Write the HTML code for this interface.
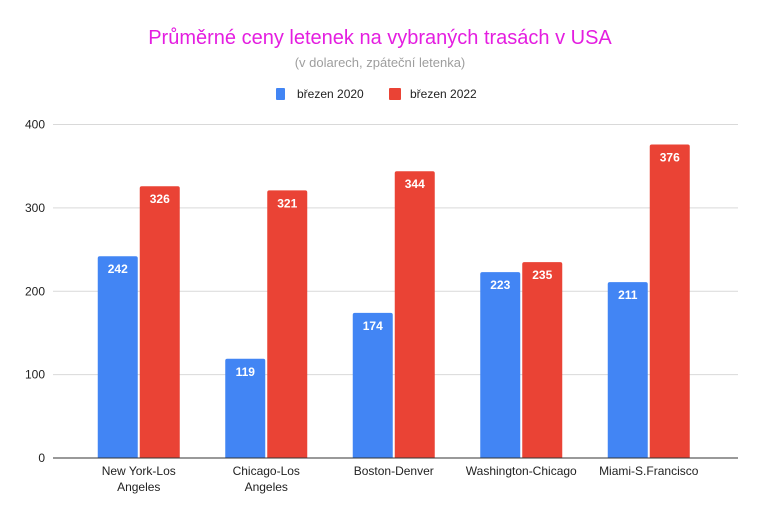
<!DOCTYPE html>
<html><head><meta charset="utf-8">
<style>
body{margin:0;background:#fff;}
svg text{font-family:"Liberation Sans",Arial,sans-serif;}
</style></head>
<body>
<svg width="759" height="514" xmlns="http://www.w3.org/2000/svg">
<rect width="759" height="514" fill="#fff"/>
<text x="380" y="44" text-anchor="middle" font-size="20" fill="#e41ee0">Průměrné ceny letenek na vybraných trasách v USA</text>
<text x="380" y="67" text-anchor="middle" font-size="13" fill="#9e9e9e">(v dolarech, zpáteční letenka)</text>
<g>
<g><rect x="276" y="88" width="9" height="12" rx="1" fill="#4285f4"/><text x="297" y="98" font-size="12" fill="#222">březen 2020</text></g>
<g><rect x="389" y="88" width="12" height="12" rx="1" fill="#ea4335"/><text x="410" y="98" font-size="12" fill="#222">březen 2022</text></g>
</g>
<g id="grid"></g>
<g id="bars"></g>
<g id="xlabels"></g>
</svg>
<script>
const categories=[["New York-Los","Angeles"],["Chicago-Los","Angeles"],["Boston-Denver"],["Washington-Chicago"],["Miami-S.Francisco"]];
const series2020=[242,119,174,223,211];
const series2022=[326,321,344,235,376];
const yTicks=[0,100,200,300,400];
const NS="http://www.w3.org/2000/svg";
const x0=75,band=127.5,plotL=53,plotR=738,yBase=458,yTop=124.5,yMax=400;
const y=v=>yBase-(v/yMax)*(yBase-yTop);
const xc=i=>x0+(i+0.5)*band;
function mk(tag,attrs,parent){const e=document.createElementNS(NS,tag);for(const k in attrs)e.setAttribute(k,attrs[k]);parent.appendChild(e);return e;}
const grid=document.getElementById('grid'),bars=document.getElementById('bars'),xl=document.getElementById('xlabels');
yTicks.forEach(t=>{
 const l=mk('line',{x1:plotL,x2:plotR,y1:y(t),y2:y(t),stroke:t===0?'#333':'#d9d9d9','stroke-width':1},grid);
 
 
 const tx=mk('text',{x:45,y:y(t)+4,'text-anchor':'end','font-size':12,fill:'#222'},grid);
 tx.textContent=t;
 
 
});
function drawBar(i,v,off,color,name){
 const bx=xc(i)+off,top=y(v);
 const r=mk('path',{d:`M${bx},${yBase} V${top+2} Q${bx},${top} ${bx+2},${top} H${bx+38} Q${bx+40},${top} ${bx+40},${top+2} V${yBase} Z`,fill:color},bars);
 
 
 const t=mk('text',{x:bx+20,y:top+17,'text-anchor':'middle','font-size':12,'font-weight':'bold',fill:'#fff'},bars);
 t.textContent=v;
 
 
}
categories.forEach((c,i)=>{
 drawBar(i,series2020[i],-41,'#4285f4','bar-2020-'+i);
 drawBar(i,series2022[i],1,'#ea4335','bar-2022-'+i);
 c.forEach((line,j)=>{
  const t=mk('text',{x:xc(i),y:475+j*16,'text-anchor':'middle','font-size':12,fill:'#222'},xl);
  t.textContent=line;
  
  
 });
});
const ax=mk('line',{x1:plotL,x2:plotR,y1:yBase,y2:yBase,stroke:'#333','stroke-width':1},bars);


</script>
</body></html>
